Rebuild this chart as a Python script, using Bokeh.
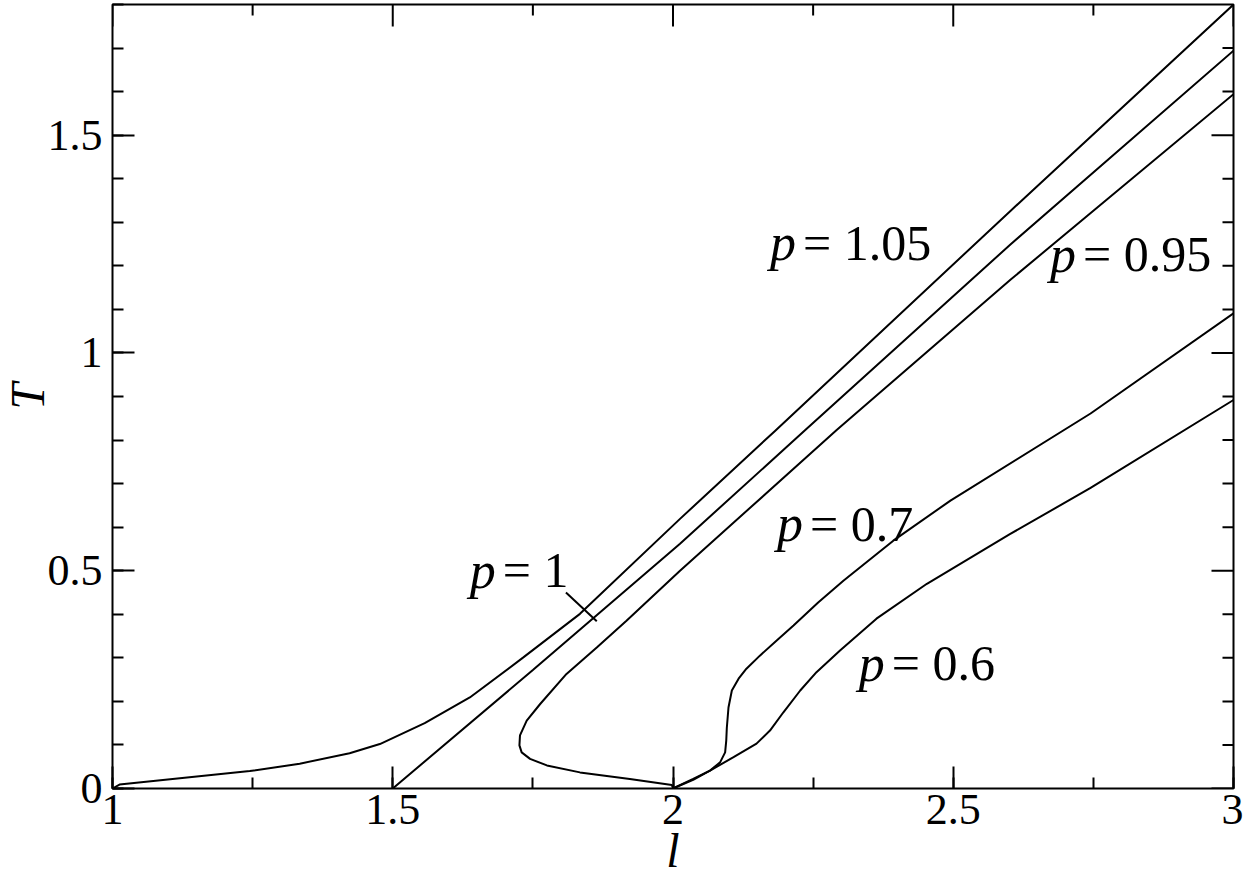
import math
from bokeh.plotting import figure
from bokeh.models import Range1d, SingleIntervalTicker, CustomJSTickFormatter, ColumnDataSource
from bokeh.core.properties import value
from bokeh.embed import file_html
from bokeh.resources import INLINE

# ---------------- data ----------------
l_p105 = [1.0, 1.0125, 1.245, 1.334, 1.423, 1.477, 1.557, 1.6375, 1.733, 1.834, 2.0125, 2.182, 2.602, 3.0]
T_p105 = [0.0, 0.009, 0.040, 0.057, 0.081, 0.102, 0.150, 0.209, 0.301, 0.401, 0.619, 0.821, 1.326, 1.80]

l_p100 = [1.5, 1.75, 2.0125, 2.236, 2.602, 3.0]
T_p100 = [0.0, 0.272, 0.562, 0.823, 1.249, 1.694]

l_p095 = [2.0, 1.998, 1.923, 1.834, 1.775, 1.745, 1.730, 1.726, 1.727, 1.739, 1.763, 1.810, 1.864, 1.917, 2.0125, 2.292, 2.602, 3.0]
T_p095 = [0.0, 0.008, 0.022, 0.037, 0.053, 0.068, 0.083, 0.099, 0.122, 0.156, 0.194, 0.263, 0.324, 0.385, 0.50, 0.823, 1.168, 1.594]

l_p070 = [2.0, 2.036, 2.066, 2.084, 2.093, 2.095, 2.096, 2.099, 2.105, 2.117, 2.131, 2.155, 2.185, 2.215, 2.259, 2.304, 2.393, 2.495, 2.745, 3.0]
T_p070 = [0.0, 0.022, 0.041, 0.060, 0.083, 0.11, 0.139, 0.186, 0.225, 0.252, 0.275, 0.305, 0.34, 0.374, 0.427, 0.477, 0.569, 0.661, 0.861, 1.091]

l_p060 = [2.0, 2.036, 2.066, 2.108, 2.149, 2.173, 2.197, 2.227, 2.256, 2.298, 2.363, 2.453, 2.601, 2.745, 3.0]
T_p060 = [0.0, 0.020, 0.041, 0.072, 0.103, 0.133, 0.175, 0.225, 0.267, 0.317, 0.39, 0.47, 0.584, 0.69, 0.892]

curves = [(l_p105, T_p105), (l_p100, T_p100), (l_p095, T_p095), (l_p070, T_p070), (l_p060, T_p060)]

label_values = ["1.05", "1", "0.95", "0.7", "0.6"]
label_x = [2.1695, 1.634, 2.669, 2.182, 2.328]
label_y = [1.253, 0.501, 1.227, 0.608, 0.287]

leader_x0, leader_y0, leader_x1, leader_y1 = [1.809], [0.450], [1.864], [0.384]

# tick positions of the mirrored (top / right) axes
top_major = [1.0, 1.5, 2.0, 2.5, 3.0]
top_minor = [1.25, 1.75, 2.25, 2.75]
right_major = [0.0, 0.5, 1.0, 1.5]
right_minor = [0.1, 0.2, 0.3, 0.4, 0.6, 0.7, 0.8, 0.9, 1.1, 1.2, 1.3, 1.4, 1.6, 1.7]

X_MIN, X_MAX = 1.0, 3.0
Y_MIN, Y_MAX = 0.0, 1.8

FONT = "Liberation Serif"

p = figure(width=1255, height=880, x_range=Range1d(X_MIN, X_MAX), y_range=Range1d(Y_MIN, Y_MAX),
           output_backend="svg", toolbar_location=None,
           min_border_left=124, min_border_right=10, min_border_top=4, min_border_bottom=92)
p.styles = {"margin-left": "-12px"}
p.background_fill_color = "white"
p.border_fill_color = "white"
p.outline_line_color = "black"
p.outline_line_width = 2
p.xgrid.visible = False
p.ygrid.visible = False

fmt = CustomJSTickFormatter(code="return tick.toFixed(1).replace(/\\.0$/, '');")

def style_axis(ax, standoff):
    ax.axis_line_color = None
    ax.major_tick_in = 22
    ax.major_tick_out = 0
    ax.minor_tick_in = 11
    ax.minor_tick_out = 0
    ax.major_tick_line_width = 2
    ax.minor_tick_line_width = 2
    ax.major_tick_line_color = "black"
    ax.minor_tick_line_color = "black"
    ax.major_label_text_font = FONT
    ax.major_label_text_font_size = "44px"
    ax.major_label_text_color = "black"
    ax.major_label_standoff = standoff
    ax.formatter = fmt
    ax.axis_label_text_font = FONT
    ax.axis_label_text_font_style = "italic"
    ax.axis_label_text_font_size = "48px"
    ax.axis_label_text_color = "black"

p.xaxis.ticker = SingleIntervalTicker(interval=0.5, num_minor_ticks=2)
p.yaxis.ticker = SingleIntervalTicker(interval=0.5, num_minor_ticks=5)
style_axis(p.xaxis[0], 6)
style_axis(p.yaxis[0], 10)
p.xaxis.axis_label = "l"
p.xaxis.axis_label_standoff = -3
p.yaxis.axis_label = "T"
p.yaxis.axis_label_standoff = -9

# mirrored ticks on the top and right edges of the box
p.ray(x=top_major, y=[Y_MAX] * len(top_major), length=22, length_units="screen",
      angle=-math.pi / 2, line_color="black", line_width=2)
p.ray(x=top_minor, y=[Y_MAX] * len(top_minor), length=11, length_units="screen",
      angle=-math.pi / 2, line_color="black", line_width=2)
p.ray(x=[X_MAX] * len(right_major), y=right_major, length=22, length_units="screen",
      angle=math.pi, line_color="black", line_width=2)
p.ray(x=[X_MAX] * len(right_minor), y=right_minor, length=11, length_units="screen",
      angle=math.pi, line_color="black", line_width=2)

for lx, ty in curves:
    p.line(lx, ty, line_color="black", line_width=2)

p.segment(x0=leader_x0, y0=leader_y0, x1=leader_x1, y1=leader_y1, line_color="black", line_width=2)

src = ColumnDataSource(dict(x=label_x, y=label_y, p=["p"] * len(label_values),
                            rest=["= " + v for v in label_values]))
p.text(x="x", y="y", text="p", source=src, text_font=value(FONT), text_font_style="italic",
       text_font_size="52px", text_align="left", text_baseline="alphabetic", text_color="black",
       x_offset=2)
p.text(x="x", y="y", text="rest", source=src, text_font=value(FONT), text_font_style="normal",
       text_font_size="50px", text_align="left", text_baseline="alphabetic", text_color="black",
       x_offset=35)

open("out.html", "w").write(file_html(p, INLINE))
